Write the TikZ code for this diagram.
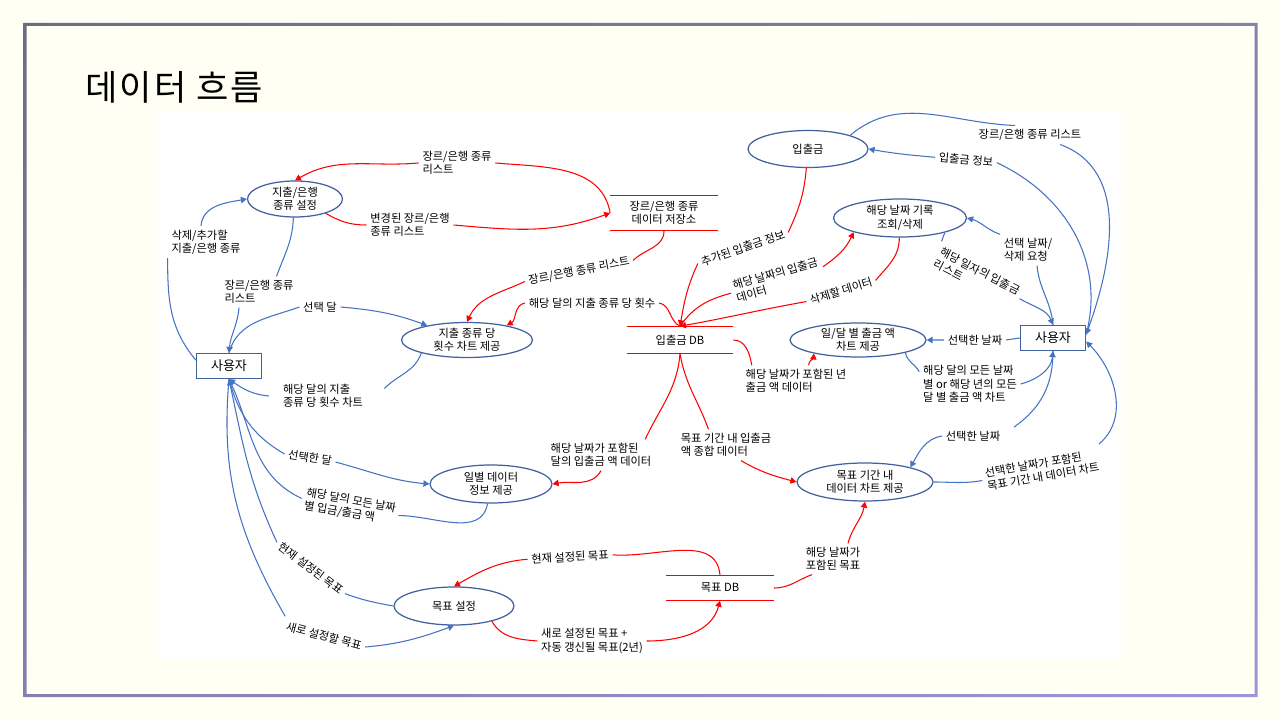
\documentclass[tikz,border=0pt]{standalone}
\usepackage{fontspec}
\setmainfont{Noto Sans CJK KR}
\newfontfamily\titlefont[LetterSpace=6]{Noto Sans CJK KR}
\usepackage{tikz}
\usetikzlibrary{arrows.meta,shapes.geometric,shadings}

\definecolor{bgcream}{HTML}{FFFFF3}
\definecolor{flowblue}{HTML}{4472C4}
\definecolor{shapeblue}{HTML}{41609E}
\definecolor{flowred}{HTML}{FF0000}
\definecolor{frametop}{HTML}{6C6D84}
\definecolor{framemid}{HTML}{8580B0}
\definecolor{framebot}{HTML}{9D95DA}

\newcommand{\lblfont}{\fontsize{6.4}{7.6}\selectfont}

\begin{document}
\begin{tikzpicture}[
    x=0.02cm, y=0.02cm,
    proc/.style={ellipse, draw=shapeblue, line width=0.7pt, align=center, inner sep=0pt, font=\lblfont},
    user/.style={rectangle, draw=shapeblue, line width=0.7pt, minimum width=1.3cm, minimum height=0.5cm, font=\fontsize{7.4}{9}\selectfont},
    store/.style={rectangle, align=center, inner sep=0pt, font=\lblfont},
    lbl/.style={align=left, inner sep=2pt, font=\lblfont},
    barrow/.style={-{Triangle[length=3.4pt,width=3.6pt]}, draw=flowblue, line width=0.6pt},
    rarrow/.style={-{Triangle[length=3.4pt,width=3.6pt]}, draw=flowred, line width=0.6pt}
]

% slide
\fill[bgcream] (0,0) rectangle (1280,720);
\shade[even odd rule, upper left=frametop, upper right=framemid, lower left=framemid, lower right=framebot]
    (23.5,23) rectangle (1257.5,697) (26.5,26) rectangle (1254.5,694);
\fill[white] (158,60) rectangle (1122,608);
\node[anchor=west, inner sep=0pt, font=\titlefont\fontsize{20}{24}\selectfont] (title) at (85,633) {데이터 흐름};

% processes
\node[proc, minimum width=1.9cm, minimum height=0.72cm] (setgenre) at (295,521) {지출/은행\\종류 설정};
\node[proc, minimum width=2.4cm, minimum height=0.74cm] (inout) at (808,571) {입출금};
\node[proc, minimum width=2.66cm, minimum height=0.76cm] (daylog) at (900,502) {해당 날짜 기록\\조회/삭제};
\node[proc, minimum width=2.62cm, minimum height=0.7cm] (cntchart) at (467,380) {지출 종류 당\\횟수 차트 제공};
\node[proc, minimum width=2.72cm, minimum height=0.68cm] (amtchart) at (858,380) {일/달 별 출금 액\\차트 제공};
\node[proc, minimum width=2.44cm, minimum height=0.76cm] (dayinfo) at (491,236) {일별 데이터\\정보 제공};
\node[proc, minimum width=2.72cm, minimum height=0.76cm] (goalchart) at (865,238) {목표 기간 내\\데이터 차트 제공};
\node[proc, minimum width=2.4cm, minimum height=0.76cm] (goalset) at (454,114) {목표 설정};

% users
\node[user] (userL) at (229,354) {사용자};
\node[user] (userR) at (1053,382) {사용자};

% data stores
\node[store, minimum width=2.14cm, minimum height=0.7cm] (genredb) at (664,507) {장르/은행 종류\\데이터 저장소};
\node[store, minimum width=2.12cm, minimum height=0.54cm] (inoutdb) at (680,380) {입출금 DB};
\node[store, minimum width=2.14cm, minimum height=0.5cm] (goaldb) at (720,132) {목표 DB};
\foreach \db in {genredb,inoutdb,goaldb}
    \draw[flowred, line width=0.7pt] (\db.north west) -- (\db.north east) (\db.south west) -- (\db.south east);

% flow labels
\node[lbl] (lgenre1) at (457,557) {장르/은행 종류\\리스트};
\node[lbl] (lchanged) at (410,495) {변경된 장르/은행\\종류 리스트};
\node[lbl, rotate=11] (lgenre2) at (579,449) {장르/은행 종류 리스트};
\node[lbl] (lcount) at (592,417) {해당 달의 지출 종류 당 횟수};
\node[lbl, rotate=19] (ladded) at (743,472) {추가된 입출금 정보};
\node[lbl, rotate=16] (ldaydata) at (777,440) {해당 날짜의 입출금\\데이터};
\node[lbl, rotate=17] (ldelete) at (841,429) {삭제할 데이터};
\node[lbl] (lyeardata) at (796,339) {해당 날짜가 포함된 년\\출금 액 데이터};
\node[lbl] (lmonthdata) at (601,265) {해당 날짜가 포함된\\달의 입출금 액 데이터};
\node[lbl] (lgoalsum) at (726,275) {목표 기간 내 입출금\\액 종합 데이터};
\node[lbl, rotate=3] (lcurgoal) at (570,163) {현재 설정된 목표};
\node[lbl] (lnewgoal) at (592,79) {새로 설정된 목표 +\\자동 갱신될 목표(2년)};
\node[lbl] (lgoaldate) at (833,161) {해당 날짜가\\포함된 목표};
\node[lbl] (laddgenre) at (206,478) {삭제/추가할\\지출/은행 종류};
\node[lbl] (lgenre3) at (259,428) {장르/은행 종류\\리스트};
\node[lbl] (lmonth) at (320,413) {선택 달};
\node[lbl] (lcountchart) at (323,324) {해당 달의 지출\\종류 당 횟수 차트};
\node[lbl, rotate=-9] (lselmonth) at (310,262) {선택한 달};
\node[lbl, rotate=-10] (ldayamt) at (350,213) {해당 달의 모든 날짜\\별 입금/출금 액};
\node[lbl, rotate=-37] (lcurgoal2) at (311,152) {현재 설정된 목표};
\node[lbl, rotate=-15] (lnewgoal2) at (324,84) {새로 설정할 목표};
\node[lbl] (lgenre4) at (1030,585) {장르/은행 종류 리스트};
\node[lbl, rotate=-5] (linfo) at (966,560) {입출금 정보};
\node[lbl] (lreq) at (1028,470) {선택 날짜/\\삭제 요청};
\node[lbl, rotate=-27] (ldaylist) at (977,443) {해당 일자의 입출금\\리스트};
\node[lbl] (lselday) at (975,380) {선택한 날짜};
\node[lbl] (lamtchart) at (970,336) {해당 달의 모든 날짜\\별 or 해당 년의 모든\\달 별 출금 액 차트};
\node[lbl] (lselday2) at (973,284) {선택한 날짜};
\node[lbl, rotate=10] (lgoalout) at (1042,250) {선택한 날짜가 포함된\\목표 기간 내 데이터 차트};

% red flows (stores)
\draw[rarrow] (genredb.west) to[out=100,in=-5] (lgenre1.east) (lgenre1.west) to[out=185,in=30] (setgenre.north);
\draw[rarrow] (setgenre.-25) to[out=-30,in=180] (lchanged.west) (lchanged.east) to[out=-5,in=200] (genredb.west);
\draw[rarrow] (genredb.south) to[out=-90,in=45] (lgenre2.east) (lgenre2.west) to[out=205,in=65] (cntchart.north);
\draw[rarrow] (inoutdb.north) to[out=155,in=-10] (lcount.east) (lcount.west) to[out=190,in=30] (cntchart.20);
\draw[rarrow] (inout.-95) to[out=-95,in=65] (ladded.east) (ladded.west) to[out=245,in=80] (inoutdb.north);
\draw[rarrow] (inoutdb.north) to[out=55,in=195] (ldaydata.west) (ldaydata.east) to[out=35,in=-115] (daylog.-163);
\draw[rarrow] (daylog.-92) to[out=-90,in=50] (ldelete.east) (ldelete.west) to[out=190,in=10] (inoutdb.north);
\draw[rarrow] (inoutdb.east) to[out=0,in=100] ([xshift=0.2cm]lyeardata.north west) ([xshift=0.25cm]lyeardata.north) to[out=85,in=-95] (amtchart.-163);
\draw[rarrow] (inoutdb.south) to[out=-95,in=65] ([xshift=-0.2cm]lmonthdata.north east) (lmonthdata.south) to[out=-120,in=10] (dayinfo.east);
\draw[rarrow] (inoutdb.south) to[out=-80,in=110] ([xshift=-0.35cm]lgoalsum.north) ([xshift=0.3cm]lgoalsum.south) to[out=-30,in=165] (goalchart.west);
\draw[rarrow] (goaldb.north) to[out=95,in=-5] (lcurgoal.east) (lcurgoal.west) to[out=185,in=30] (goalset.north);
\draw[rarrow] (goalset.-22) to[out=-60,in=175] (lnewgoal.west) (lnewgoal.east) to[out=0,in=-105] (goaldb.south);
\draw[rarrow] (goaldb.east) to[out=0,in=200] ([xshift=0.2cm]lgoaldate.south west) ([xshift=0.3cm]lgoaldate.north) to[out=75,in=-100] (goalchart.south);

% blue flows (left user)
\draw[barrow] (userL.170) to[out=130,in=-90] (laddgenre.south west) ([xshift=-0.1cm]laddgenre.north) to[out=85,in=190] (setgenre.west);
\draw[barrow] (setgenre.-95) to[out=-92,in=70] ([xshift=0.35cm]lgenre3.north) ([xshift=-0.4cm]lgenre3.south) to[out=-95,in=85] (userL.north);
\draw[barrow] (userL.north) to[out=75,in=200] (lmonth.west) (lmonth.east) to[out=-5,in=160] (cntchart.160);
\draw[barrow] (cntchart.-164) to[out=-110,in=45] ([xshift=0.35cm,yshift=0.15cm]lcountchart.east) ([xshift=-0.2cm]lcountchart.west) to[out=175,in=-35] (userL.south);
\draw[barrow] (userL.south) to[out=-75,in=150] (lselmonth.west) (lselmonth.east) to[out=-15,in=175] (dayinfo.west);
\draw[barrow] (dayinfo.-100) to[out=-100,in=0] (ldayamt.east) (ldayamt.west) to[out=155,in=-65] (userL.south);
\draw[barrow] (goalset.west) to[out=170,in=-20] (lcurgoal2.east) (lcurgoal2.west) to[out=115,in=-78] (userL.south);
\draw[barrow] (userL.south) to[out=-95,in=120] (lnewgoal2.north west) (lnewgoal2.east) to[out=5,in=200] (goalset.south);

% blue flows (right user)
\draw[barrow] (inout.18) to[out=40,in=178] ([xshift=-0.3cm]lgenre4.north) ([xshift=-0.5cm]lgenre4.south east) to[out=-20,in=70] (userR.6);
\draw[barrow] (userR.6) to[out=75,in=-25] (linfo.east) (linfo.west) to[out=175,in=-10] (inout.east);
\draw[barrow] (goalchart.east) to[out=0,in=190] (lgoalout.west) (lgoalout.north east) to[out=40,in=-45] (userR.-6);
\draw[barrow] (userR.south) to[out=-90,in=35] ([xshift=0.2cm]lselday2.north east) (lselday2.west) to[out=190,in=60] (goalchart.18);
\draw[barrow] (amtchart.-15) to[out=-80,in=120] ([yshift=-0.2cm]lamtchart.north west) (lamtchart.east) to[out=15,in=-95] (userR.south);
\draw[barrow] (userR.west) -- (lselday.east) (lselday.west) -- (amtchart.east);
\draw[barrow] (userR.north) to[out=95,in=-85] ([xshift=0.18cm]lreq.south) (lreq.north west) to[out=160,in=-15] (daylog.east);
\draw[barrow] (daylog.-18) to[out=-90,in=95] (ldaylist.north west) (ldaylist.east) to[out=-30,in=112] (userR.north);
\end{tikzpicture}
\end{document}
